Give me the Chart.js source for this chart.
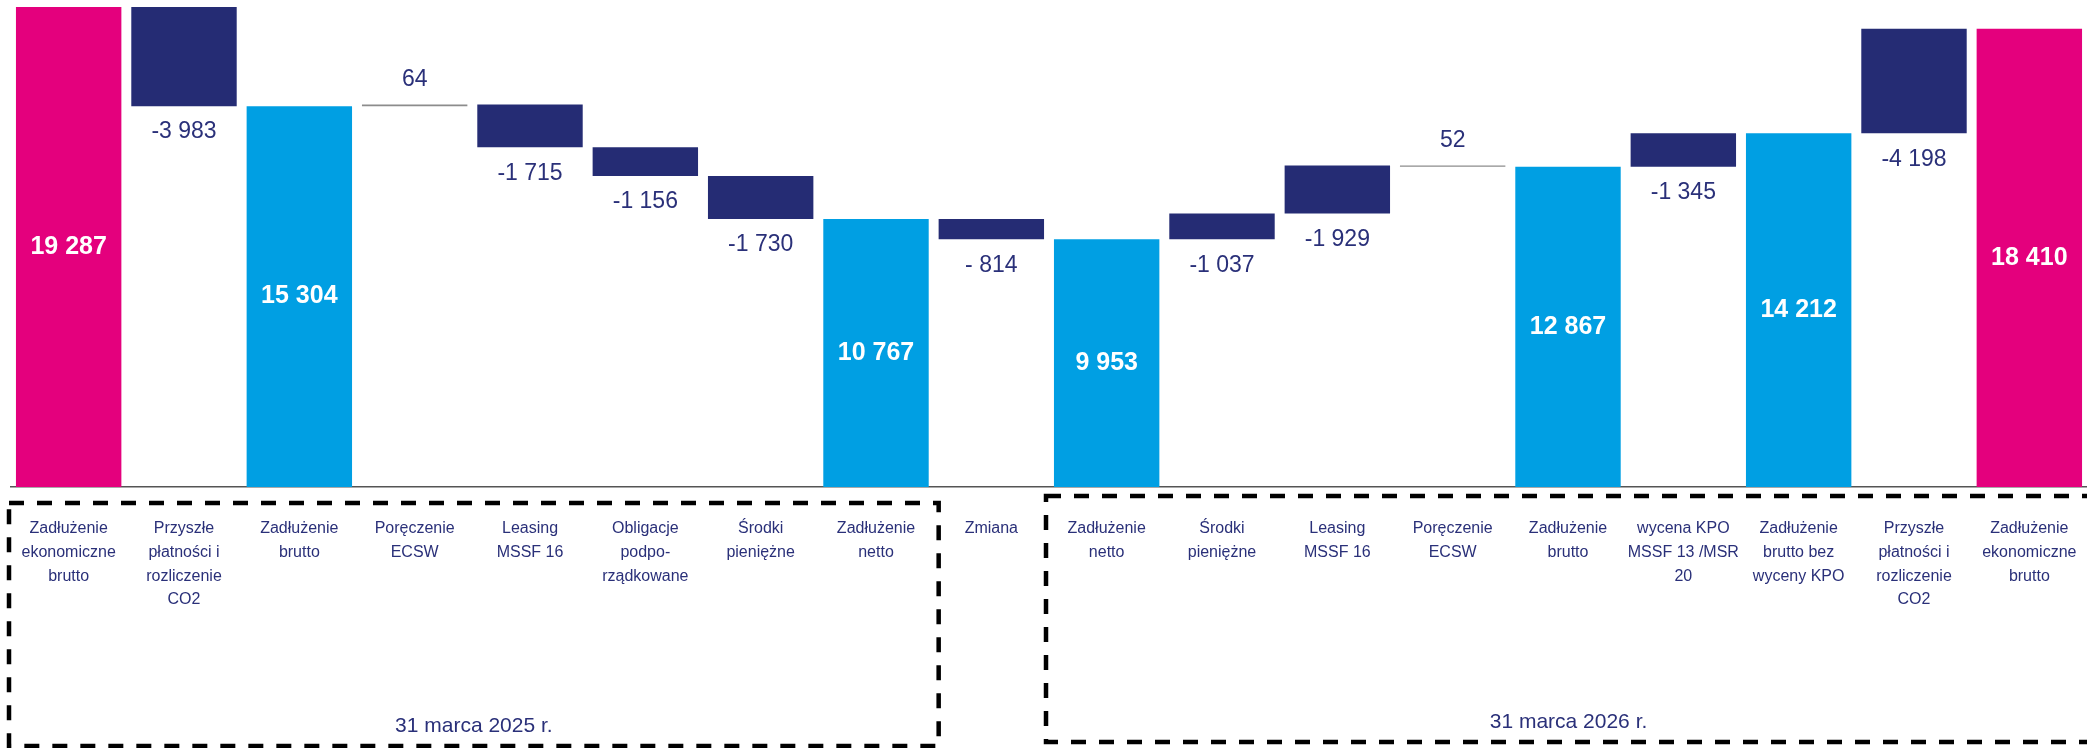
<!DOCTYPE html>
<html>
<head>
<meta charset="utf-8">
<script src="https://cdn.jsdelivr.net/npm/chart.js@4.4.1/dist/chart.umd.min.js"></script>
<style>
  html, body { margin: 0; padding: 0; background: #fff; }
  #wrap { width: 2087px; height: 748px; }
</style>
</head>
<body>
<div id="wrap"><canvas id="myChart"></canvas></div>
<script>
const categories = [
  ['Zadłużenie', 'ekonomiczne', 'brutto'],
  ['Przyszłe', 'płatności i', 'rozliczenie', 'CO2'],
  ['Zadłużenie', 'brutto'],
  ['Poręczenie', 'ECSW'],
  ['Leasing', 'MSSF 16'],
  ['Obligacje', 'podpo-', 'rządkowane'],
  ['Środki', 'pieniężne'],
  ['Zadłużenie', 'netto'],
  ['Zmiana'],
  ['Zadłużenie', 'netto'],
  ['Środki', 'pieniężne'],
  ['Leasing', 'MSSF 16'],
  ['Poręczenie', 'ECSW'],
  ['Zadłużenie', 'brutto'],
  ['wycena KPO', 'MSSF 13 /MSR', '20'],
  ['Zadłużenie', 'brutto bez', 'wyceny KPO'],
  ['Przyszłe', 'płatności i', 'rozliczenie', 'CO2'],
  ['Zadłużenie', 'ekonomiczne', 'brutto']
];
const values = [19287, -3983, 15304, 64, -1715, -1156, -1730, 10767, -814, 9953,
                -1037, -1929, 52, 12867, -1345, 14212, -4198, 18410];
const kinds = ['total', 'change', 'total', 'change', 'change', 'change', 'change', 'total', 'change', 'total',
               'change', 'change', 'change', 'total', 'change', 'total', 'change', 'total'];
// 2025 part runs left to right, the 2026 part walks back up from net debt
const direction = [1, 1, 1, 1, 1, 1, 1, 1, 1, 1, -1, -1, -1, -1, -1, -1, -1, -1];
const periods = ['31 marca 2025 r.', '31 marca 2026 r.'];

const FONT = '"Liberation Sans", Arial, sans-serif';
const NAVY_TEXT = '#2a3079';

// floating ranges for the waterfall
let level = 0;
const ranges = values.map((v, i) => {
  if (kinds[i] === 'total') { level = v; return [0, v]; }
  const start = level;
  level = level + direction[i] * v;
  return [start, level];
});

const colors = values.map((v, i) => {
  if (kinds[i] === 'total') return (i === 0 || i === values.length - 1) ? '#e4007d' : '#009fe3';
  return v > 0 ? '#8c8c8c' : '#252c74';
});

function fmt(v) {
  const abs = Math.abs(v);
  const s = abs >= 1000 ? Math.floor(abs / 1000) + ' ' + String(abs % 1000).padStart(3, '0') : ' ' + abs;
  return v < 0 ? '-' + s : s.trim();
}

const valueLabels = {
  id: 'valueLabels',
  afterDatasetsDraw(chart) {
    const ctx = chart.ctx;
    const y = chart.scales.y;
    chart.getDatasetMeta(0).data.forEach((bar, i) => {
      const top = y.getPixelForValue(Math.max(...ranges[i]));
      const bottom = y.getPixelForValue(Math.min(...ranges[i]));
      ctx.save();
      ctx.textAlign = 'center';
      ctx.textBaseline = 'middle';
      if (kinds[i] === 'total') {
        ctx.font = 'bold 25px ' + FONT;
        ctx.fillStyle = '#fff';
        ctx.fillText(fmt(values[i]), bar.x, (top + bottom) / 2);
      } else if (values[i] > 0) {
        ctx.font = '23px ' + FONT;
        ctx.fillStyle = NAVY_TEXT;
        ctx.fillText(fmt(values[i]), bar.x, top - 25);
      } else {
        ctx.font = '23px ' + FONT;
        ctx.fillStyle = NAVY_TEXT;
        ctx.fillText(fmt(values[i]), bar.x, bottom + 26);
      }
      ctx.restore();
    });
  }
};

const periodBoxes = {
  id: 'periodBoxes',
  afterDraw(chart) {
    const ctx = chart.ctx;
    const x = chart.scales.x;
    const step = x.getPixelForValue(1) - x.getPixelForValue(0);
    const base = chart.chartArea.bottom;
    const boxes = [
      { from: x.getPixelForValue(0) - step / 2 - 2, to: x.getPixelForValue(7) + step / 2 + 5, top: base + 16, bottom: base + 259, text: periods[0] },
      { from: x.getPixelForValue(9) - step / 2 - 3, to: chart.width + 4, top: base + 9, bottom: base + 255, text: periods[1] }
    ];
    ctx.save();
    boxes.forEach(b => {
      ctx.strokeStyle = '#000';
      ctx.lineWidth = 4.5;
      ctx.setLineDash([15, 13]);
      ctx.strokeRect(b.from, b.top, b.to - b.from, b.bottom - b.top);
      ctx.setLineDash([]);
      ctx.fillStyle = NAVY_TEXT;
      ctx.font = '21px ' + FONT;
      ctx.textAlign = 'center';
      ctx.textBaseline = 'middle';
      ctx.fillText(b.text, (b.from + b.to) / 2, b.bottom - 20);
    });
    ctx.restore();
  }
};

const ctx = document.getElementById('myChart').getContext('2d');

new Chart(ctx, {
  type: 'bar',
  data: {
    labels: categories,
    datasets: [{
      data: ranges,
      backgroundColor: colors,
      borderWidth: 0,
      borderSkipped: false,
      barPercentage: 0.914,
      categoryPercentage: 1
    }]
  },
  options: {
    responsive: true,
    maintainAspectRatio: false,
    animation: false,
    layout: { padding: { top: 7, left: 11, right: 0, bottom: 0 } },
    plugins: {
      legend: { display: false },
      tooltip: { enabled: false }
    },
    scales: {
      x: {
        grid: { display: true, drawOnChartArea: false, drawTicks: true, tickLength: 30, color: 'rgba(0,0,0,0)' },
        border: { display: true, color: '#555', width: 1.5 },
        ticks: {
          color: NAVY_TEXT,
          font: { family: FONT, size: 16, lineHeight: 1.48 },
          padding: 0,
          maxRotation: 0,
          minRotation: 0,
          autoSkip: false
        },
        afterFit(scale) { scale.height = 261; }
      },
      y: {
        display: false,
        min: 0,
        max: 19287
      }
    }
  },
  plugins: [valueLabels, periodBoxes]
});
</script>
</body>
</html>
